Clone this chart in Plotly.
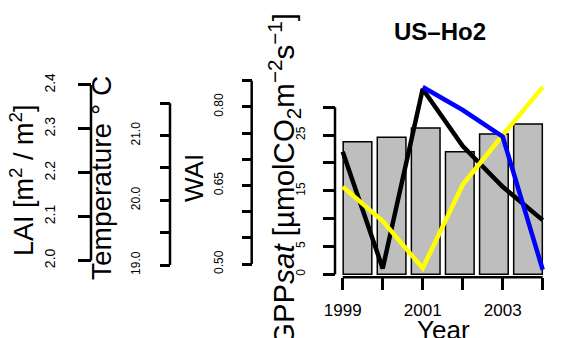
import plotly.graph_objects as go

# ---- data ----
years = [1999, 2000, 2001, 2002, 2003, 2004]
year_labels = ["1999", "2000", "2001", "2002", "2003", "2004"]
gpp_sat = [23.8, 24.6, 26.3, 22.0, 25.2, 27.0]          # bars
lai = [2.248, 1.982, 2.391, 2.261, 2.168, 2.092]         # black line
temperature = [20.21, 19.68, 18.95, 20.24, 21.01, 21.75] # yellow line
wai = [None, None, 0.838, 0.794, 0.743, 0.489]           # blue line

lai_ticks = [2.0, 2.1, 2.2, 2.3, 2.4]
lai_ticktext = ["2.0", "2.1", "2.2", "2.3", "2.4"]
temp_ticks = [19.0, 19.5, 20.0, 20.5, 21.0, 21.5]
temp_ticktext = ["19.0", "", "20.0", "", "21.0", ""]
wai_ticks = [0.50, 0.55, 0.60, 0.65, 0.70, 0.75, 0.80, 0.85]
wai_ticktext = ["0.50", "", "", "0.65", "", "", "0.80", ""]
gpp_ticks = [0, 5, 10, 15, 20, 25, 30]
gpp_ticktext = ["0", "5", "", "15", "", "25", ""]
year_ticktext = ["1999", "", "2001", "", "2003", ""]

W, H = 565, 338
FONT = "Liberation Sans, Arial, sans-serif"


def px(x):
    return x / W


def py(y):
    return 1 - y / H


dom_x = [px(329.1), px(550.2)]
dom_y = [py(277.0), py(79.5)]

fig = go.Figure()

fig.add_trace(go.Bar(
    x=year_labels, y=gpp_sat, xaxis="x", yaxis="y",
    marker=dict(color="#BEBEBE", line=dict(color="black", width=1.5)),
    showlegend=False,
))
fig.add_trace(go.Scatter(
    x=years, y=lai, xaxis="x2", yaxis="y2", mode="lines",
    line=dict(color="black", width=4.5), showlegend=False,
))
fig.add_trace(go.Scatter(
    x=years, y=wai, xaxis="x2", yaxis="y4", mode="lines",
    line=dict(color="#0000FF", width=4.5), showlegend=False,
))
fig.add_trace(go.Scatter(
    x=years, y=temperature, xaxis="x2", yaxis="y3", mode="lines",
    line=dict(color="#FFFF00", width=4.5), showlegend=False,
))

common = dict(showgrid=False, zeroline=False, showline=False, ticks="outside",
              tickwidth=2.5, tickcolor="black", tickangle=-90)

fig.update_layout(
    width=W, height=H,
    margin=dict(l=0, r=0, t=0, b=0, autoexpand=False),
    paper_bgcolor="white", plot_bgcolor="white",
    font=dict(family=FONT, color="black"),
    bargap=0.16,
    xaxis=dict(domain=dom_x, type="category", range=[-0.833, 5.651],
               anchor="y", visible=False),
    xaxis2=dict(overlaying="x", anchor="y", side="bottom", range=[1998.66, 2004.1875],
                tickvals=years, ticktext=year_ticktext, ticks="outside", ticklen=12,
                tickwidth=2.5, tickcolor="black", showgrid=False, zeroline=False,
                showline=False, tickfont=dict(size=17), ticklabelstandoff=6),
    yaxis=dict(domain=dom_y, anchor="free", position=px(335), range=[-0.485, 34.99],
               tickvals=gpp_ticks, ticktext=gpp_ticktext, ticklen=12,
               tickfont=dict(size=12), ticklabelstandoff=13, **common),
    yaxis2=dict(overlaying="y", anchor="free", position=px(91), range=[1.9624, 2.4125],
                tickvals=lai_ticks, ticktext=lai_ticktext, ticklen=13,
                tickfont=dict(size=14), ticklabelstandoff=17, **common),
    yaxis3=dict(overlaying="y", anchor="free", position=px(170), range=[18.8145, 21.868],
                tickvals=temp_ticks, ticktext=temp_ticktext, ticklen=10,
                tickfont=dict(size=12), ticklabelstandoff=15, **common),
    yaxis4=dict(overlaying="y", anchor="free", position=px(251.7), range=[0.4752, 0.8523],
                tickvals=wai_ticks, ticktext=wai_ticktext, ticklen=10,
                tickfont=dict(size=12), ticklabelstandoff=14, **common),
)

axis_line = dict(color="black", width=2.5)
fig.add_shape(type="line", xref="paper", yref="y2", x0=px(91), x1=px(91),
              y0=lai_ticks[0], y1=lai_ticks[-1], line=axis_line)
fig.add_shape(type="line", xref="paper", yref="y3", x0=px(170), x1=px(170),
              y0=temp_ticks[0], y1=temp_ticks[-1], line=axis_line)
fig.add_shape(type="line", xref="paper", yref="y4", x0=px(251.7), x1=px(251.7),
              y0=wai_ticks[0], y1=wai_ticks[-1], line=axis_line)
fig.add_shape(type="line", xref="paper", yref="y", x0=px(335), x1=px(335),
              y0=gpp_ticks[0], y1=gpp_ticks[-1], line=axis_line)
fig.add_shape(type="line", xref="x2", yref="paper", x0=years[0], x1=years[-1],
              y0=py(277.3), y1=py(277.3), line=axis_line)

title_font = dict(family=FONT, size=27, color="black")
fig.add_annotation(text="LAI [m<sup>2</sup> / m<sup>2</sup>]", textangle=-90,
                   xref="paper", yref="paper", x=px(22), y=py(180),
                   xanchor="center", yanchor="middle", showarrow=False, font=title_font)
fig.add_annotation(text="Temperature ° C", textangle=-90,
                   xref="paper", yref="paper", x=px(101), y=py(178),
                   xanchor="center", yanchor="middle", showarrow=False,
                   font=dict(family=FONT, size=28, color="black"))
fig.add_annotation(text="WAI", textangle=-90,
                   xref="paper", yref="paper", x=px(194), y=py(178),
                   xanchor="center", yanchor="middle", showarrow=False,
                   font=dict(family=FONT, size=26, color="black"))
fig.add_annotation(text="GPP<i>sat</i> [µmolCO<sub>2</sub>m<sup>−2</sup>s<sup>−1</sup>]",
                   textangle=-90, xref="paper", yref="paper", x=px(284), y=py(180),
                   xanchor="center", yanchor="middle", showarrow=False,
                   font=dict(family=FONT, size=29.5, color="black"))
fig.add_annotation(text="Year", xref="paper", yref="paper", x=px(443), y=py(330),
                   xanchor="center", yanchor="middle", showarrow=False,
                   font=dict(family=FONT, size=26, color="black"))
fig.add_annotation(text="<b>US–Ho2</b>", xref="paper", yref="paper", x=px(440), y=py(31),
                   xanchor="center", yanchor="middle", showarrow=False,
                   font=dict(family=FONT, size=24, color="black"))

fig.write_html("out.html", config={"displayModeBar": False},
               post_script=("document.body.style.margin='0px';"
                            "document.body.style.overflow='hidden';"))
